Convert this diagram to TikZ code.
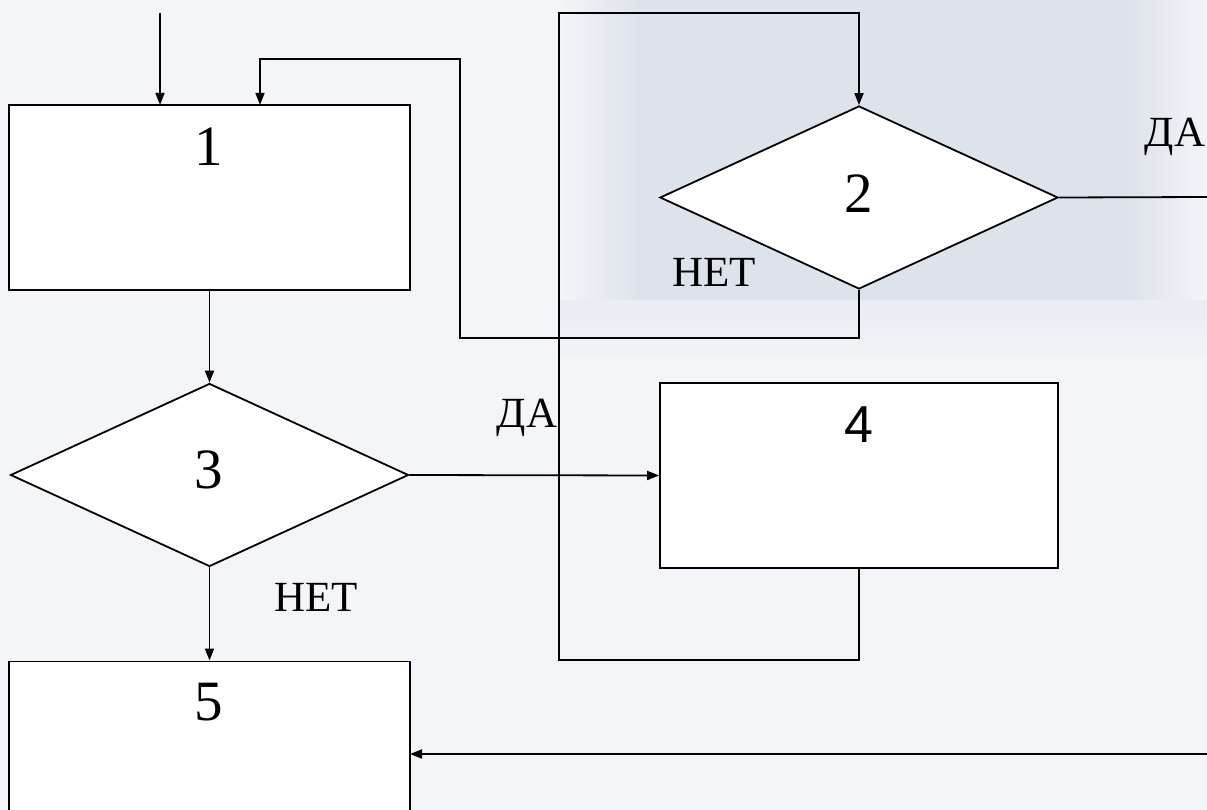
\documentclass[tikz,border=0pt]{standalone}
\usepackage{fontspec}
\setmainfont{Liberation Serif}
\newfontfamily\arialfont{Liberation Sans}
\usetikzlibrary{shapes.geometric,arrows.meta}
\definecolor{bgmain}{HTML}{F3F5F8}
\definecolor{bgwin}{HTML}{DDE3EA}
\definecolor{bgband}{HTML}{EAEEF2}
\tikzset{
  blk/.style={draw=black, line width=1.8pt, fill=white, rectangle, inner sep=0pt},
  dec/.style={draw=black, line width=1.8pt, fill=white, diamond, inner sep=0pt, minimum width=398pt, minimum height=183pt},
  conn/.style={draw=black, line width=1.8pt},
  arr/.style={conn, -{Triangle[length=12pt, width=9pt]}},
  num/.style={font=\fontsize{57}{60}\selectfont, inner sep=0pt},
  lbl/.style={font=\fontsize{43}{46}\selectfont, inner sep=0pt, anchor=base},
}
\begin{document}
\begin{tikzpicture}[x=1pt, y=-1pt]
\useasboundingbox (0,0) rectangle (1207,810);
\clip (0,0) rectangle (1207,810);
% background
\fill[bgmain] (0,0) rectangle (1207,810);
\shade[left color=bgmain, right color=bgwin] (560,0) rectangle (640,300);
\fill[bgwin] (640,0) rectangle (1130,300);
\shade[left color=bgwin, right color=bgmain] (1130,0) rectangle (1207,300);
\fill[bgband] (560,300) rectangle (1207,318);
\shade[top color=bgband, bottom color=bgmain] (560,318) rectangle (1207,360);

% nodes
\node[blk, minimum width=401pt, minimum height=185pt] (b1) at (209.5,197.5) {};
\node[dec] (d2) at (859,197.5) {};
\node[dec] (d3) at (209.5,475) {};
\node[blk, minimum width=398pt, minimum height=185pt] (b4) at (859,475.5) {};
\node[blk, minimum width=401pt, minimum height=200pt, anchor=north] (b5) at (209.5,660.5) {};

\node[num] (t1) at (209,147) {1};
\node[num] (t2) at (859,194) {2};
\node[num] (t3) at (209,470) {3};
\node[num, font=\arialfont\fontsize{52}{55}\selectfont] (t4) at (859,425) {4};
\node[num] (t5) at (209,702) {5};

\node[lbl] (yes2) at (1175,147) {ДА};
\node[lbl] (no2) at (714,287) {НЕТ};
\node[lbl] (yes3) at (527,427) {ДА};
\node[lbl] (no3) at (316,611) {НЕТ};

% coordinates
\coordinate (entry) at (160,13);
\coordinate (b1in) at (160,104.9);
\coordinate (b1in2) at (260,104.9);
\coordinate (rightA) at (1207,197);
\coordinate (rightB) at (1210,754);
\coordinate (b5in) at (410,754);

% connectors
\draw[arr] (entry) -- (b1in);
\draw[arr] (b1) -- (d3);
\draw[arr] (d3.east) -- (b4.west);
\draw[arr] (d3.south) -- (b5.north);
\draw[arr] (d2.south) -- ++(0,48) -| (460,59) -| (b1in2);
\draw[arr] (b4.south) -- ++(0,91) -| (559,13) -| (d2.north);
\draw[conn] (d2.east) -- (rightA);
\draw[arr] (rightB) -- (b5in);
\end{tikzpicture}
\end{document}
